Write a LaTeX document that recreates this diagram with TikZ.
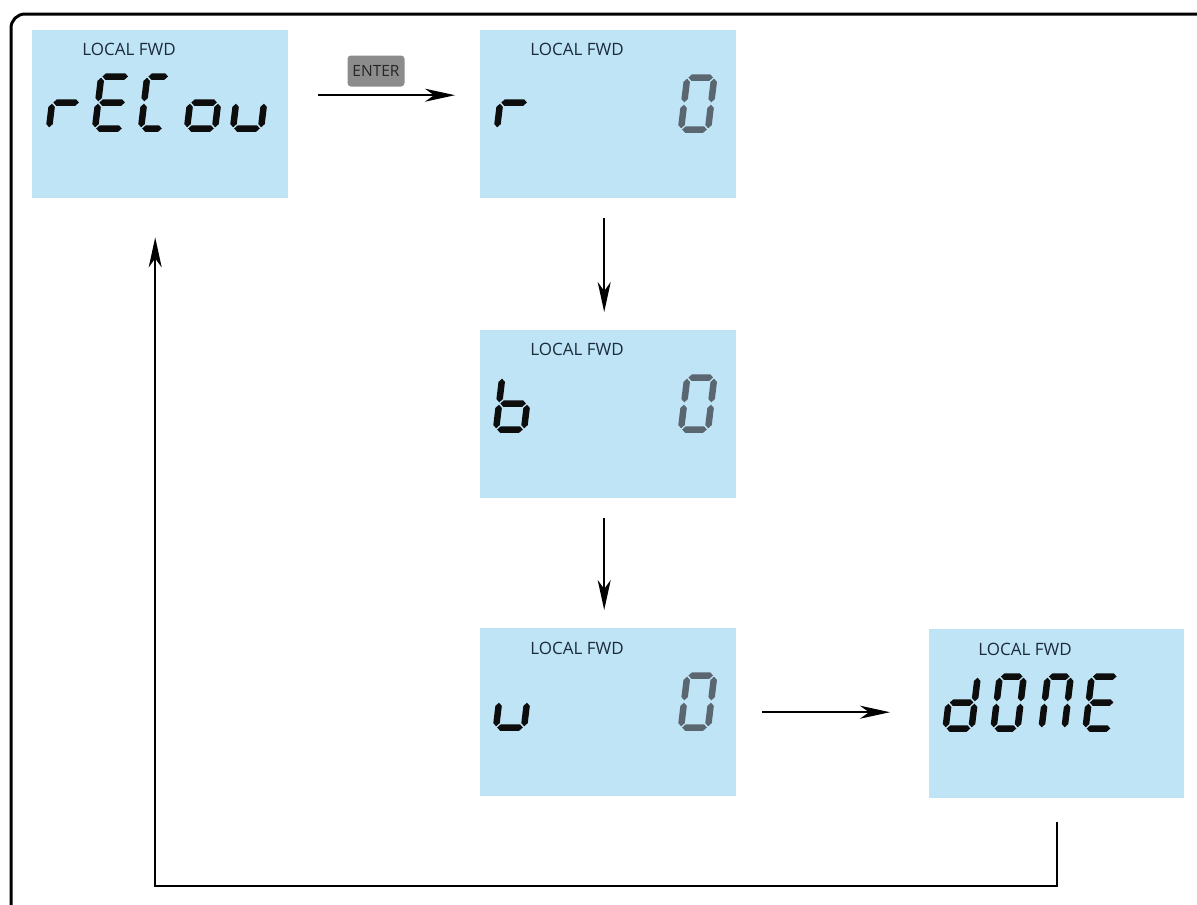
\documentclass[tikz,border=0pt]{standalone}
\usepackage{fontspec}
\setmainfont{Open Sans}
\usetikzlibrary{arrows.meta}
\definecolor{lcd}{HTML}{BEE4F6}
\definecolor{segblack}{HTML}{0D0D0D}
\definecolor{seggray}{HTML}{5B6770}
\definecolor{lbl}{HTML}{1C2B3A}
\definecolor{entergray}{HTML}{8C8C8C}
\tikzset{
 lcdbox/.style={fill=lcd, draw=none, minimum width=256pt, minimum height=168pt, inner sep=0pt, anchor=north west},
 lcdlabel/.style={text=lbl, font=\fontsize{17}{19}\selectfont, inner sep=0pt},
 enterkey/.style={fill=entergray, rounded corners=3.5pt, minimum width=57pt, minimum height=31pt, inner sep=0pt, text=black!85, font=\fontsize{15.5}{17}\selectfont},
 flow/.style={line width=2pt, -{Stealth[length=30pt,width=13pt,inset=9pt]}},
 frame/.style={line width=3pt, rounded corners=14pt}
}
\def\sgG{1.2}\def\sgT{6.5}\def\sgkh{h}
\def\sgda{\def\sgk{h}\def\sgsx{\sgG}\def\sgsy{\sgH}\def\sgex{\sgW-\sgG}}
\def\sgdb{\def\sgk{v}\def\sgsx{\sgW}\def\sgsy{\sgH-\sgG}\def\sgey{\sgH/2+\sgG}}
\def\sgdc{\def\sgk{v}\def\sgsx{\sgW}\def\sgsy{\sgH/2-\sgG}\def\sgey{\sgG}}
\def\sgdd{\def\sgk{h}\def\sgsx{\sgG}\def\sgsy{0}\def\sgex{\sgW-\sgG}}
\def\sgde{\def\sgk{v}\def\sgsx{0}\def\sgsy{\sgH/2-\sgG}\def\sgey{\sgG}}
\def\sgdf{\def\sgk{v}\def\sgsx{0}\def\sgsy{\sgH-\sgG}\def\sgey{\sgH/2+\sgG}}
\def\sgdg{\def\sgk{h}\def\sgsx{\sgG}\def\sgsy{\sgH/2}\def\sgex{\sgW-\sgG}}
\newcommand\segHor{\fill[\segcol] (\sgsx,\sgsy) -- (\sgsx+\sgT/2,\sgsy+\sgT/2) -- (\sgex-\sgT/2,\sgsy+\sgT/2) -- (\sgex,\sgsy) -- (\sgex-\sgT/2,\sgsy-\sgT/2) -- (\sgsx+\sgT/2,\sgsy-\sgT/2) -- cycle;}
\newcommand\segVer{\fill[\segcol] (\sgsx,\sgsy) -- (\sgsx+\sgT/2,\sgsy-\sgT/2) -- (\sgsx+\sgT/2,\sgey+\sgT/2) -- (\sgsx,\sgey) -- (\sgsx-\sgT/2,\sgey+\sgT/2) -- (\sgsx-\sgT/2,\sgsy-\sgT/2) -- cycle;}
\newcommand\sevseg[6]{%
 \begin{scope}[shift={(#1,-#2)}, xslant=0.12]
 \def\sgW{#3}\def\sgH{#4}\def\segcol{#6}%
 \foreach \sgl in {#5}{\csname sgd\sgl\endcsname\ifx\sgk\sgkh\segHor\else\segVer\fi}
 \end{scope}}
\begin{document}
\begin{tikzpicture}[x=1pt,y=1pt]
\clip (0,0) rectangle (1197,-905);
\draw[frame] (11,-14) rectangle (1240,-950);
% boxes
\node[lcdbox] (b1) at (32,-30) {};
\node[lcdbox] (b2) at (480,-30) {};
\node[lcdbox] (b3) at (480,-330) {};
\node[lcdbox] (b4) at (480,-628) {};
\node[lcdbox, minimum width=255pt, minimum height=169pt] (b5) at (929,-629) {};
% labels
\node[lcdlabel] (l1) at (129,-49) {LOCAL FWD};
\node[lcdlabel] (l2) at (577,-49) {LOCAL FWD};
\node[lcdlabel] (l3) at (577,-349) {LOCAL FWD};
\node[lcdlabel] (l4) at (577,-648) {LOCAL FWD};
\node[lcdlabel] (l5) at (1025,-649) {LOCAL FWD};
% glyphs box 1: rECou
\sevseg{49}{128.5}{28}{52}{e,g}{segblack}
\sevseg{95}{128.5}{28}{52}{a,d,e,f,g}{segblack}
\sevseg{141}{128.5}{22}{52}{a,d,e,f}{segblack}
\sevseg{187}{128.5}{28}{52}{c,d,e,g}{segblack}
\sevseg{233}{128.5}{28}{52}{c,d,e}{segblack}
% box 2
\sevseg{497}{128.5}{28}{52}{e,g}{segblack}
\sevseg{681}{129.5}{27}{52}{a,b,c,d,e,f}{seggray}
% box 3
\sevseg{496}{429.5}{28}{52}{c,d,e,f,g}{segblack}
\sevseg{681}{429.5}{27}{52}{a,b,c,d,e,f}{seggray}
% box 4
\sevseg{496}{727.5}{28}{52}{c,d,e}{segblack}
\sevseg{681}{727.5}{27}{52}{a,b,c,d,e,f}{seggray}
% box 5: dONE
\sevseg{945.5}{728.5}{26}{52}{b,c,d,e,g}{segblack}
\sevseg{993.5}{728.5}{24}{52}{a,b,c,d,e,f}{segblack}
\sevseg{1041.5}{728.5}{23}{52}{a,b,c,e,f}{segblack}
\sevseg{1085.5}{728.5}{26}{52}{a,d,e,f,g}{segblack}
% enter key
\node[enterkey] (ent) at (376,-71) {ENTER};
% connectors
\draw[flow] ([xshift=30pt,yshift=19pt]b1.east) -- ([xshift=-25pt,yshift=19pt]b2.west);
\draw[flow] ([xshift=-4pt,yshift=-20pt]b2.south) -- ([xshift=-4pt,yshift=18pt]b3.north);
\draw[flow] ([xshift=-4pt,yshift=-20pt]b3.south) -- ([xshift=-4pt,yshift=18pt]b4.north);
\coordinate (r1) at ([xshift=-39pt]b5.west);
\draw[flow] ([xshift=26pt]b4.east) -- (r1 |- b4.east);
\coordinate (ret) at ([yshift=-24pt]b5.south);
\draw[flow] (ret) -- ++(0,-64) -| ([xshift=-5pt,yshift=-39pt]b1.south);
\end{tikzpicture}
\end{document}
